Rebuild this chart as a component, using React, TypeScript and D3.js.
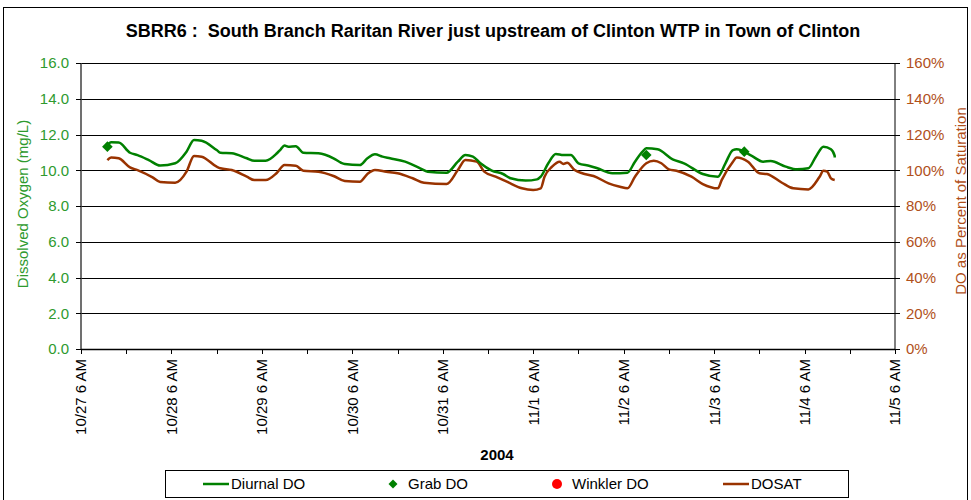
import React, { useEffect, useRef } from 'react';
import * as d3 from 'd3';

// hours after 10/27 6 AM
const diurnalHours = [7.0, 8.3, 10.4, 13.1, 15.7, 18.4, 21.9, 25.4, 28.1, 30.3, 32.1, 36.1, 37.4, 40.5, 44.0, 46.7, 49.7, 52.0, 53.7, 54.6, 55.9, 57.7, 59.9, 63.4, 67.0, 69.6, 70.5, 74.0, 76.7, 78.6, 80.2, 82.9, 86.4, 90.0, 92.6, 97.9, 100.1, 102.3, 104.5, 106.7, 109.4, 112.0, 114.7, 118.2, 121.8, 122.8, 124.0, 126.6, 128.8, 130.2, 132.4, 135.9, 137.7, 141.2, 145.6, 147.4, 149.1, 150.9, 153.5, 157.1, 160.7, 165.9, 169.5, 171.3, 173.5, 174.8, 178.3, 181.0, 183.6, 187.2, 190.7, 193.4, 195.1, 197.8, 199.1, 200.0, 200.8];
const diurnalDO = [11.4, 11.56, 11.55, 10.98, 10.85, 10.57, 10.26, 10.39, 11.04, 11.69, 11.65, 11.13, 10.98, 10.95, 10.67, 10.53, 10.53, 10.95, 11.17, 11.38, 11.32, 11.34, 10.98, 10.95, 10.67, 10.42, 10.35, 10.29, 10.67, 10.89, 10.76, 10.67, 10.48, 10.11, 9.92, 9.86, 10.48, 10.85, 10.76, 10.39, 9.98, 9.79, 9.55, 9.42, 9.49, 9.64, 10.39, 10.91, 10.85, 10.85, 10.39, 10.24, 10.11, 9.83, 9.86, 10.48, 11.04, 11.23, 11.17, 10.61, 10.39, 9.79, 9.64, 10.39, 11.13, 11.17, 10.8, 10.48, 10.52, 10.2, 10.05, 10.11, 10.76, 11.32, 11.17, 10.8, 10.72];

const dosatHours = [7.6, 8.3, 10.4, 13.1, 15.7, 19.2, 21.9, 25.4, 28.1, 30.3, 32.1, 36.1, 37.8, 40.5, 44.0, 46.7, 49.7, 52.8, 54.6, 57.3, 59.9, 63.4, 67.0, 70.5, 74.0, 76.7, 78.9, 81.1, 84.6, 88.2, 91.7, 97.9, 100.5, 102.7, 105.0, 107.6, 110.3, 113.8, 117.3, 120.9, 122.5, 123.1, 125.3, 127.1, 128.8, 129.7, 131.5, 133.2, 136.8, 140.3, 143.0, 145.6, 147.4, 150.0, 152.7, 154.5, 156.2, 158.9, 162.4, 165.9, 169.5, 170.8, 173.0, 174.8, 177.5, 180.1, 182.8, 186.3, 189.9, 193.8, 196.1, 197.8, 198.7, 199.5, 200.8];
const dosatPct = [105.7, 107.2, 106.7, 101.6, 100.1, 96.0, 93.4, 93.0, 99.2, 108.0, 107.6, 102.0, 101.1, 100.1, 96.4, 94.5, 94.5, 98.6, 102.9, 102.5, 99.7, 99.2, 96.8, 94.0, 93.6, 97.9, 100.1, 99.2, 98.3, 95.5, 93.0, 92.3, 100.1, 105.7, 104.8, 99.2, 96.4, 93.6, 89.9, 89.0, 89.9, 96.4, 102.0, 104.8, 103.5, 104.2, 100.1, 98.3, 96.8, 92.7, 90.8, 89.9, 96.4, 103.9, 105.3, 103.9, 100.5, 99.7, 96.4, 92.3, 89.9, 94.5, 104.8, 107.2, 104.8, 98.3, 97.9, 93.0, 89.9, 89.3, 96.4, 99.7, 99.2, 95.5, 94.5];

const grabHours = [7.3, 150.0, 176.6];
const grabDO = [11.32, 10.85, 11.04];

const leftTicks = [0, 2, 4, 6, 8, 10, 12, 14, 16];
const rightTicks = [0, 20, 40, 60, 80, 100, 120, 140, 160];

const legendItems = ['Diurnal DO', 'Grab DO', 'Winkler DO', 'DOSAT'];

const title = 'SBRR6 :  South Branch Raritan River just upstream of Clinton WTP in Town of Clinton';

const GREEN = '#008000';
const BROWN = '#993300';
const GREEN_TXT = '#2e9a2e';
const BROWN_TXT = '#b0501a';
const FONT = 'Arial, "Liberation Sans", sans-serif';
const FS = 15;

const App = () => {
  const svgRef = useRef(null);

  useEffect(() => {
    const svg = d3.select(svgRef.current);
    svg.selectAll('*').remove();

    const W = 971, H = 500;
    const plot = { left: 81, right: 895, top: 63, bottom: 349 };
    const day0 = new Date(2004, 9, 27, 6);
    const at = (h: number) => d3.timeHour.offset(day0, h);

    const x = d3.scaleTime().domain([day0, d3.timeDay.offset(day0, 9)]).range([plot.left, plot.right]);
    const yL = d3.scaleLinear().domain([0, 16]).range([plot.bottom, plot.top]);
    const yR = d3.scaleLinear().domain([0, 160]).range([plot.bottom, plot.top]);

    svg.append('rect').attr('width', W).attr('height', H).attr('fill', '#fff');
    // chart border
    svg.append('rect').attr('x', 3.5).attr('y', 7.5).attr('width', 964).attr('height', 520)
      .attr('fill', 'none').attr('stroke', '#000').attr('stroke-width', 1);

    svg.append('text').attr('x', 493).attr('y', 37).attr('text-anchor', 'middle')
      .attr('font-family', FONT).attr('font-weight', 'bold').attr('font-size', 18)
      .style('white-space', 'pre').text(title);

    // gridlines
    svg.append('g').selectAll('line').data(leftTicks).enter().append('line')
      .attr('x1', plot.left).attr('x2', plot.right)
      .attr('y1', d => Math.round(yL(d)) + 0.5).attr('y2', d => Math.round(yL(d)) + 0.5)
      .attr('stroke', '#000').attr('stroke-width', 1);

    // left axis
    const gl = svg.append('g');
    gl.append('line').attr('x1', plot.left).attr('x2', plot.left).attr('y1', plot.top).attr('y2', plot.bottom + 1)
      .attr('stroke', '#404040').attr('stroke-width', 1.5);
    gl.selectAll('.t').data(leftTicks).enter().append('line')
      .attr('x1', plot.left - 5).attr('x2', plot.left)
      .attr('y1', d => Math.round(yL(d)) + 0.5).attr('y2', d => Math.round(yL(d)) + 0.5)
      .attr('stroke', '#000');
    gl.selectAll('text').data(leftTicks).enter().append('text')
      .attr('x', 69).attr('y', d => yL(d)).attr('dy', '0.36em').attr('text-anchor', 'end')
      .attr('font-family', FONT).attr('font-size', FS).attr('fill', GREEN_TXT)
      .text(d => d3.format('.1f')(d));
    svg.append('text').attr('transform', `translate(28,204) rotate(-90)`)
      .attr('text-anchor', 'middle').attr('font-family', FONT).attr('font-size', FS).attr('fill', GREEN_TXT)
      .text('Dissolved Oxygen (mg/L)');

    // right axis
    const gr = svg.append('g');
    gr.append('line').attr('x1', plot.right).attr('x2', plot.right).attr('y1', plot.top).attr('y2', plot.bottom + 1)
      .attr('stroke', '#000').attr('stroke-width', 1);
    gr.selectAll('.t').data(rightTicks).enter().append('line')
      .attr('x1', plot.right - 3).attr('x2', plot.right + 5)
      .attr('y1', d => Math.round(yR(d)) + 0.5).attr('y2', d => Math.round(yR(d)) + 0.5)
      .attr('stroke', '#000');
    gr.selectAll('text').data(rightTicks).enter().append('text')
      .attr('x', 906).attr('y', d => yR(d)).attr('dy', '0.36em')
      .attr('font-family', FONT).attr('font-size', FS).attr('fill', BROWN_TXT)
      .text(d => `${d}%`);
    svg.append('text').attr('transform', `translate(966,201) rotate(-90)`)
      .attr('text-anchor', 'middle').attr('font-family', FONT).attr('font-size', FS).attr('fill', BROWN_TXT)
      .text('DO as Percent of Saturation');

    // x axis
    const gx = svg.append('g');
    gx.append('line').attr('x1', plot.left).attr('x2', plot.right).attr('y1', plot.bottom + 0.5).attr('y2', plot.bottom + 0.5)
      .attr('stroke', '#000').attr('stroke-width', 1.5);
    const ticks = d3.range(0, 9 * 24 + 1, 12).map(at);
    gx.selectAll('.t').data(ticks).enter().append('line')
      .attr('x1', d => Math.round(x(d)) + 0.5).attr('x2', d => Math.round(x(d)) + 0.5)
      .attr('y1', plot.bottom).attr('y2', plot.bottom + 5).attr('stroke', '#000');
    const fmt = d3.timeFormat('%-m/%-d %-I %p');
    gx.selectAll('text').data(ticks.filter((_, i) => i % 2 === 0)).enter().append('text')
      .attr('transform', d => `translate(${x(d)},359) rotate(-90)`)
      .attr('dy', '0.36em').attr('text-anchor', 'end')
      .attr('font-family', FONT).attr('font-size', FS).attr('fill', '#000')
      .text(d => fmt(d));
    svg.append('text').attr('x', 497).attr('y', 460).attr('text-anchor', 'middle')
      .attr('font-family', FONT).attr('font-weight', 'bold').attr('font-size', FS).text('2004');

    // series
    const lineL = d3.line<number>().x((_, i) => x(at(dosatHours[i]))).y(d => yR(d)).curve(d3.curveMonotoneX);
    svg.append('path').datum(dosatPct).attr('d', lineL).attr('fill', 'none')
      .attr('stroke', BROWN).attr('stroke-width', 2.5).attr('stroke-linejoin', 'round');
    const lineD = d3.line<number>().x((_, i) => x(at(diurnalHours[i]))).y(d => yL(d)).curve(d3.curveMonotoneX);
    svg.append('path').datum(diurnalDO).attr('d', lineD).attr('fill', 'none')
      .attr('stroke', GREEN).attr('stroke-width', 2.5).attr('stroke-linejoin', 'round');

    const diamond = d3.symbol().type(d3.symbolSquare).size(56);
    svg.append('g').selectAll('path').data(grabDO).enter().append('path')
      .attr('d', diamond)
      .attr('transform', (d, i) => `translate(${x(at(grabHours[i]))},${yL(d)}) rotate(45)`)
      .attr('fill', GREEN);

    // legend
    const lg = svg.append('g');
    lg.append('rect').attr('x', 165.5).attr('y', 470.5).attr('width', 683).attr('height', 27)
      .attr('fill', '#fff').attr('stroke', '#000');
    const cy = 484;
    const itemX = [203, 386, 550, 723];
    lg.selectAll('.sym').data(legendItems).enter().append('g').each(function (d, i) {
      const g = d3.select(this);
      if (i === 0 || i === 3) {
        g.append('line').attr('x1', itemX[i]).attr('x2', itemX[i] + 26).attr('y1', cy).attr('y2', cy)
          .attr('stroke', i === 0 ? GREEN : BROWN).attr('stroke-width', 2.5);
        g.append('text').attr('x', itemX[i] + 28).attr('y', cy).attr('dy', '0.36em')
          .attr('font-family', FONT).attr('font-size', FS).text(d);
      } else {
        const sx = itemX[i] + 7;
        if (i === 1) {
          g.append('path').attr('d', d3.symbol().type(d3.symbolSquare).size(40)())
            .attr('transform', `translate(${sx},${cy}) rotate(45)`).attr('fill', GREEN);
        } else {
          g.append('circle').attr('cx', sx).attr('cy', cy).attr('r', 5).attr('fill', '#ff0000');
        }
        g.append('text').attr('x', sx + 15).attr('y', cy).attr('dy', '0.36em')
          .attr('font-family', FONT).attr('font-size', FS).text(d);
      }
    });
  }, []);

  return (
    <svg ref={svgRef} width="971" height="500"
      style={{ position: 'absolute', left: 0, top: 0, display: 'block' }} />
  );
};

export default App;
